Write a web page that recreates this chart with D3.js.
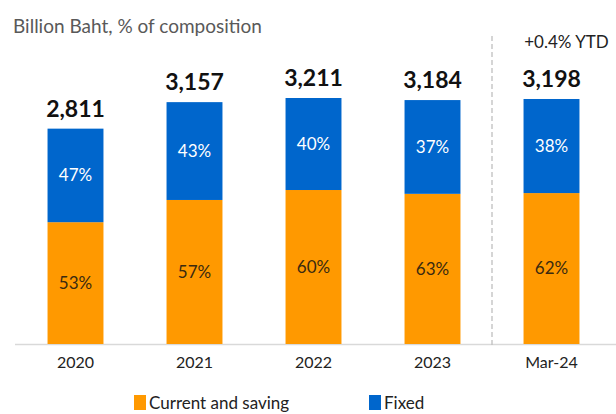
<!DOCTYPE html>
<html>
<head>
<meta charset="utf-8">
<script src="https://cdn.jsdelivr.net/npm/d3@7"></script>
<style>
  body { margin: 0; background: #fff; }
  text { font-family: Lato, "Open Sans", sans-serif; }
</style>
</head>
<body>
<div id="chart"></div>
<script>
// data
var periods = ["2020", "2021", "2022", "2023", "Mar-24"];
var totals = [2811, 3157, 3211, 3184, 3198];
var currentSaving = [1590, 1880, 2010, 1960, 1970]; // billion baht, estimated from bar split
var currentPct = ["53%", "57%", "60%", "63%", "62%"];
var fixedPct = ["47%", "43%", "40%", "37%", "38%"];
var seriesNames = ["Current and saving", "Fixed"];
var seriesColors = ["#FF9900", "#0066CC"];

var svgWidth = 616;
var svgHeight = 414;
var baseY = 344;

var svg = d3.select("#chart")
  .append("svg")
  .attr("width", svgWidth)
  .attr("height", svgHeight);

var rows = periods.map(function(p, i) {
  return { period: p, total: totals[i], cs: currentSaving[i], fixed: totals[i] - currentSaving[i],
           csPct: currentPct[i], fxPct: fixedPct[i] };
});

var x = d3.scaleBand()
  .domain(periods)
  .range([16, 611])
  .paddingInner(0.53)
  .paddingOuter(0.265);

var y = d3.scaleLinear()
  .domain([0, 3211])
  .range([baseY, 98]);

// title
svg.append("text")
  .attr("x", 13)
  .attr("y", 33)
  .attr("font-size", "19px")
  .attr("fill", "#595959")
  .text("Billion Baht, % of composition");

// x axis
var xAxis = svg.append("g")
  .attr("transform", `translate(0, ${baseY})`)
  .call(d3.axisBottom(x).tickSize(0).tickPadding(13));
xAxis.select(".domain").remove();
xAxis.selectAll("text")
  .attr("font-size", "16px")
  .attr("fill", "#222")
  .style("font-family", "Lato, sans-serif");

svg.append("line")
  .attr("x1", 15).attr("x2", 616)
  .attr("y1", baseY + 0.5).attr("y2", baseY + 0.5)
  .attr("stroke", "#d9d9d9")
  .attr("stroke-width", 1.5);

// dashed separator before last period
var sepX = (x("2023") + x.bandwidth() + x("Mar-24")) / 2;
svg.append("line")
  .attr("x1", sepX).attr("x2", sepX)
  .attr("y1", 36).attr("y2", baseY + 3)
  .attr("stroke", "#bfbfbf")
  .attr("stroke-width", 1.3)
  .attr("stroke-dasharray", "5,3");

// bars
var groups = svg.selectAll(".bar")
  .data(rows)
  .enter()
  .append("g")
  .attr("class", "bar");

groups.append("rect")
  .attr("x", d => x(d.period))
  .attr("y", d => y(d.cs))
  .attr("width", x.bandwidth())
  .attr("height", d => y(0) - y(d.cs))
  .attr("fill", seriesColors[0]);

groups.append("rect")
  .attr("x", d => x(d.period))
  .attr("y", d => y(d.total))
  .attr("width", x.bandwidth())
  .attr("height", d => y(d.cs) - y(d.total))
  .attr("fill", seriesColors[1]);

// segment labels
groups.append("text")
  .attr("x", d => x(d.period) + x.bandwidth() / 2)
  .attr("y", d => (y(0) + y(d.cs)) / 2)
  .attr("dy", "0.35em")
  .attr("text-anchor", "middle")
  .attr("font-size", "17px")
  .attr("fill", "#3a2a10")
  .text(d => d.csPct);

groups.append("text")
  .attr("x", d => x(d.period) + x.bandwidth() / 2)
  .attr("y", d => (y(d.cs) + y(d.total)) / 2)
  .attr("dy", "0.35em")
  .attr("text-anchor", "middle")
  .attr("font-size", "17px")
  .attr("fill", "#fff")
  .text(d => d.fxPct);

// totals
groups.append("text")
  .attr("x", d => x(d.period) + x.bandwidth() / 2)
  .attr("y", d => y(d.total) - 12)
  .attr("text-anchor", "middle")
  .attr("font-size", "23px")
  .attr("font-weight", "bold")
  .attr("fill", "#111")
  .text(d => d3.format(",")(d.total));

svg.append("text")
  .attr("x", x("Mar-24") + x.bandwidth() / 2 + 15)
  .attr("y", 48)
  .attr("text-anchor", "middle")
  .attr("font-size", "17px")
  .attr("fill", "#222")
  .text("+0.4% YTD");

// legend
var legend = svg.selectAll(".legend")
  .data(seriesNames)
  .enter()
  .append("g")
  .attr("class", "legend")
  .attr("transform", (d, i) => `translate(${i === 0 ? 134 : 369}, 395)`);

legend.append("rect")
  .attr("width", 12)
  .attr("height", 15)
  .attr("fill", (d, i) => seriesColors[i]);

legend.append("text")
  .attr("x", 15)
  .attr("y", 14)
  .attr("font-size", "17px")
  .attr("fill", "#222")
  .text(d => d);
</script>
</body>
</html>
